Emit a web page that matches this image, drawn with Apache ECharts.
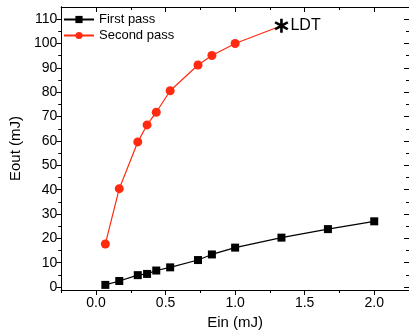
<!DOCTYPE html>
<html><head><meta charset="utf-8">
<script src="https://cdn.jsdelivr.net/npm/echarts@6/dist/echarts.min.js"></script>
<style>html,body{margin:0;padding:0;background:#fff}#c{width:409px;height:335px}</style>
</head><body><div id="c"></div>
<script>
const xFirst = [0.067, 0.167, 0.3, 0.367, 0.433, 0.533, 0.733, 0.833, 1.0, 1.333, 1.667, 2.0];
const yFirst = [0.9, 2.5, 4.9, 5.4, 6.8, 8.1, 11.1, 13.4, 16.2, 20.3, 23.8, 27.0];
const xSecond = [0.067, 0.167, 0.3, 0.367, 0.433, 0.533, 0.733, 0.833, 1.0, 1.333];
const ySecond = [17.7, 40.4, 59.6, 66.6, 71.8, 80.6, 91.2, 95.1, 100.0, 107.3];
const ldtPoint = [1.333, 107.3];
const ldtLabel = 'LDT';
const xMajor = [0, 0.5, 1.0, 1.5, 2.0];
const xMinor = [-0.25, 0.25, 0.75, 1.25, 1.75];
const yMajor = [0, 10, 20, 30, 40, 50, 60, 70, 80, 90, 100, 110];
const yMinor = [5, 15, 25, 35, 45, 55, 65, 75, 85, 95, 105];
const seriesNames = ['First pass', 'Second pass'];

const XMIN = -0.25, XMAX = 2.25, YMIN = -1.2, YMAX = 115;
const font = 'Liberation Sans, Arial, sans-serif';
const lineStyle = {color: '#000', width: 1};

function xAx(pos, vals, len, inside, labels, name) {
  return {
    type: 'value', position: pos, min: XMIN, max: XMAX,
    axisLine: {show: true, onZero: false, lineStyle},
    splitLine: {show: false},
    axisTick: {show: true, customValues: vals, length: len, inside, lineStyle},
    axisLabel: labels ? {show: true, customValues: vals, formatter: v => v.toFixed(1), color: '#000', fontSize: 14, fontFamily: font, margin: 6} : {show: false},
    name: name || '', nameLocation: 'middle', nameGap: 25,
    nameTextStyle: {color: '#000', fontSize: 15, fontFamily: font}
  };
}
function yAx(pos, vals, len, inside, labels, name) {
  return {
    type: 'value', position: pos, min: YMIN, max: YMAX,
    axisLine: {show: true, onZero: false, lineStyle},
    splitLine: {show: false},
    axisTick: {show: true, customValues: vals, length: len, inside, lineStyle},
    axisLabel: labels ? {show: true, customValues: vals, color: '#000', fontSize: 14, fontFamily: font, margin: 4} : {show: false},
    name: name || '', nameLocation: 'middle', nameGap: 34, nameRotate: 90,
    nameTextStyle: {color: '#000', fontSize: 15, fontFamily: font}
  };
}

const chart = echarts.init(document.getElementById('c'), null, {renderer: 'canvas'});
chart.setOption({
  animation: false,
  backgroundColor: '#fff',
  grid: {left: 57, right: 0, top: 7, bottom: 43, containLabel: false},
  legend: {
    left: 63, top: 13, padding: 0, orient: 'vertical', itemGap: 3, itemWidth: 30, itemHeight: 9,
    textStyle: {color: '#000', fontSize: 13, fontFamily: font},
    data: seriesNames
  },
  xAxis: [
    xAx('bottom', xMajor, 5, false, true, 'Ein (mJ)'),
    xAx('bottom', xMinor, 3, false, false),
    xAx('top', xMajor, 5, true, false),
    xAx('top', xMinor, 3, true, false)
  ],
  yAxis: [
    yAx('left', yMajor, 5, false, true, 'Eout (mJ)'),
    yAx('left', yMinor, 3, false, false),
    yAx('right', yMajor, 5, true, false),
    yAx('right', yMinor, 3, true, false)
  ],
  series: [
    {
      name: seriesNames[0], type: 'line', xAxisIndex: 0, yAxisIndex: 0,
      data: xFirst.map((x, i) => [x, yFirst[i]]),
      symbol: 'rect', symbolSize: 8,
      itemStyle: {color: '#000'}, lineStyle: {color: '#000', width: 1.2}
    },
    {
      name: seriesNames[1], type: 'line', xAxisIndex: 0, yAxisIndex: 0,
      data: xSecond.map((x, i) => i === xSecond.length - 1 ? {value: [x, ySecond[i]], symbol: 'none'} : [x, ySecond[i]]),
      symbol: 'circle', symbolSize: 9,
      itemStyle: {color: '#ff2a10'}, lineStyle: {color: '#ff2a10', width: 1.2}
    },
    {
      name: 'LDT', type: 'scatter', xAxisIndex: 0, yAxisIndex: 0,
      data: [ldtPoint],
      symbol: 'path://M-1.8,-10L1.8,-10L1.8,-3.1L7.8,-6.6L9.6,-3.5L3.6,0L9.6,3.5L7.8,6.6L1.8,3.1L1.8,10L-1.8,10L-1.8,3.1L-7.8,6.6L-9.6,3.5L-3.6,0L-9.6,-3.5L-7.8,-6.6L-1.8,-3.1Z',
      symbolSize: 14, itemStyle: {color: '#000', opacity: 1}, z: 5,
      label: {show: true, position: 'right', distance: 2, formatter: ldtLabel, color: '#000', fontSize: 16, fontFamily: font}
    }
  ]
});
</script></body></html>
